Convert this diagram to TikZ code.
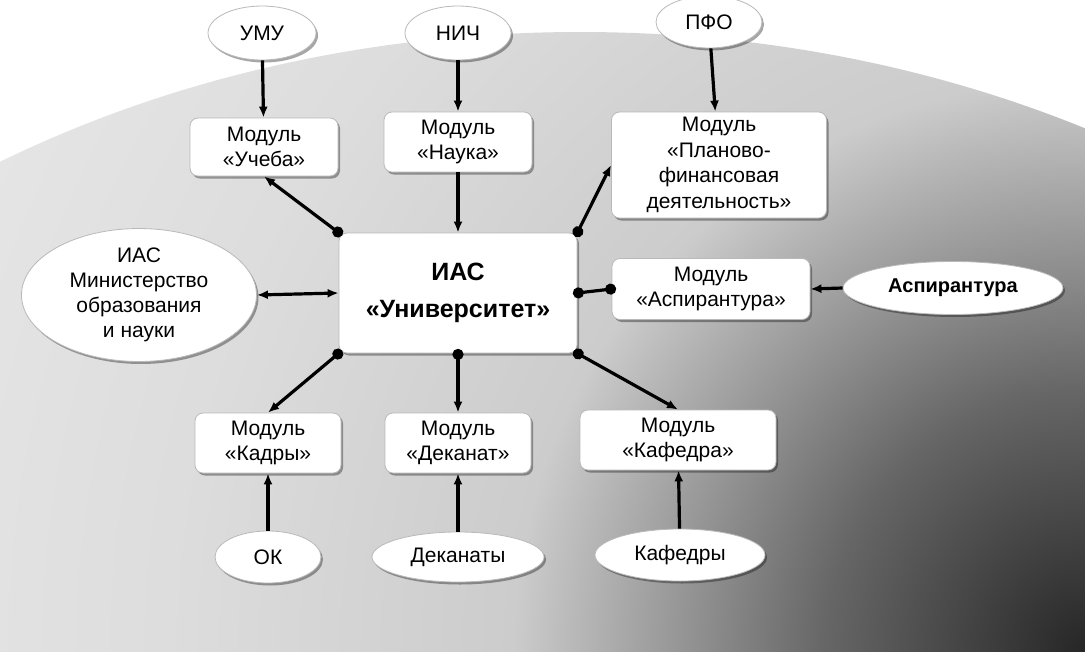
\documentclass[tikz,border=0pt]{standalone}
\usepackage{fontspec}
\setmainfont{Liberation Sans}
\usetikzlibrary{arrows.meta,shapes.geometric,shadows}
\pgfdeclareradialshading{cornerdark}{\pgfpoint{0bp}{0bp}}{%
  color(0bp)=(black!85); color(5bp)=(black!60); color(11bp)=(gray!40);
  color(17.5bp)=(gray!27); color(25bp)=(gray!18); color(50bp)=(gray!18)}
\begin{document}
\begin{tikzpicture}[x=1pt,y=-1pt,
  shadowed/.style={drop shadow={shadow xshift=2pt,shadow yshift=-2.5pt,opacity=0.35,fill=black}},
  box/.style={rectangle,rounded corners=8pt,fill=white,draw=gray!55,line width=0.8pt,shadowed,
    align=center,inner sep=0pt,font=\fontsize{21}{25.5}\selectfont},
  oval/.style={ellipse,fill=white,draw=gray!55,line width=0.8pt,shadowed,
    align=center,inner sep=0pt,font=\fontsize{21}{25}\selectfont},
  conn/.style={line width=3.2pt,-{Latex[length=11pt,width=9pt]}},
  dotconn/.style={line width=3.2pt,{Circle[length=11pt]}-{Latex[length=11pt,width=9pt]},shorten <=-4.5pt},
  dotdot/.style={line width=3.2pt,{Circle[length=11pt]}-{Circle[length=11pt]},shorten <=-4.5pt,shorten >=-4.5pt},
  dblconn/.style={line width=3.2pt,{Latex[length=11pt,width=9pt]}-{Latex[length=11pt,width=9pt]}}
]
\useasboundingbox (0,0) rectangle (1085,651);
\fill[white] (0,0) rectangle (1085,651);
\begin{scope}
  \clip (580,900) ellipse [x radius=1102pt, y radius=868pt];
  \shade[shading=cornerdark] (1085,651) circle [radius=1300pt];
\end{scope}

% top sources
\node[oval,minimum width=108pt,minimum height=54pt] (umu)  at (262,33) {УМУ};
\node[oval,minimum width=106pt,minimum height=54pt] (nich) at (458,33) {НИЧ};
\node[oval,minimum width=106pt,minimum height=52pt] (pfo)  at (709,22) {ПФО};

% upper modules
\node[box,minimum width=148pt,minimum height=58pt] (ucheba) at (264,147) {Модуль\\«Учеба»};
\node[box,minimum width=148pt,minimum height=60pt] (nauka)  at (458,142) {Модуль\\«Наука»};
\node[box,minimum width=215pt,minimum height=106pt] (plan)  at (719,165)
  {Модуль\\«Планово-\\финансовая\\деятельность»};

% centre
\node[box,minimum width=238pt,minimum height=120pt,font=\fontsize{25}{37}\selectfont\bfseries] (univ) at (458,293)
  {ИАС\\«Университет»};

% left ministry
\node[oval,minimum width=235pt,minimum height=115pt] (min) at (139,295)
  {ИАС\\Министерство\\образования\\и науки};

% aspirantura
\node[box,minimum width=198pt,minimum height=61pt] (masp) at (711,289) {Модуль\\«Аспирантура»};
\node[oval,minimum width=220pt,minimum height=53pt,font=\fontsize{20}{24}\selectfont\bfseries] (asp) at (953,288) {Аспирантура};

% lower modules
\node[box,minimum width=146pt,minimum height=60pt] (kadry)   at (268,443) {Модуль\\«Кадры»};
\node[box,minimum width=146pt,minimum height=60pt] (dekanat) at (458,443) {Модуль\\«Деканат»};
\node[box,minimum width=196pt,minimum height=60pt] (kafedra) at (678,440) {Модуль\\«Кафедра»};

% bottom sources
\node[oval,minimum width=106pt,minimum height=52pt] (ok)       at (268,557) {ОК};
\node[oval,minimum width=172pt,minimum height=50pt] (dekanaty) at (458,557) {Деканаты};
\node[oval,minimum width=170pt,minimum height=52pt] (kafedry)  at (680,555) {Кафедры};

% connectors
\draw[conn] (umu) -- (ucheba);
\draw[conn] (nich) -- (nauka);
\draw[conn] (pfo) -- (plan);
\draw[conn] (nauka) -- (univ);
\draw[dotconn] (univ.north west) -- (ucheba.south);
\draw[dotconn] (univ.north east) -- (plan.west);
\draw[dblconn] (min.east) -- (univ.west);
\draw[dotdot] (univ.east) -- (masp.west);
\draw[conn] (asp.west) -- (masp.east);
\draw[dotconn] (univ.south west) -- (kadry.north);
\draw[dotconn] (univ.south) -- (dekanat.north);
\draw[dotconn] (univ.south east) -- (kafedra.north);
\draw[conn] (ok) -- (kadry);
\draw[conn] (dekanaty) -- (dekanat);
\draw[conn] (kafedry) -- (kafedra);
\end{tikzpicture}
\end{document}
